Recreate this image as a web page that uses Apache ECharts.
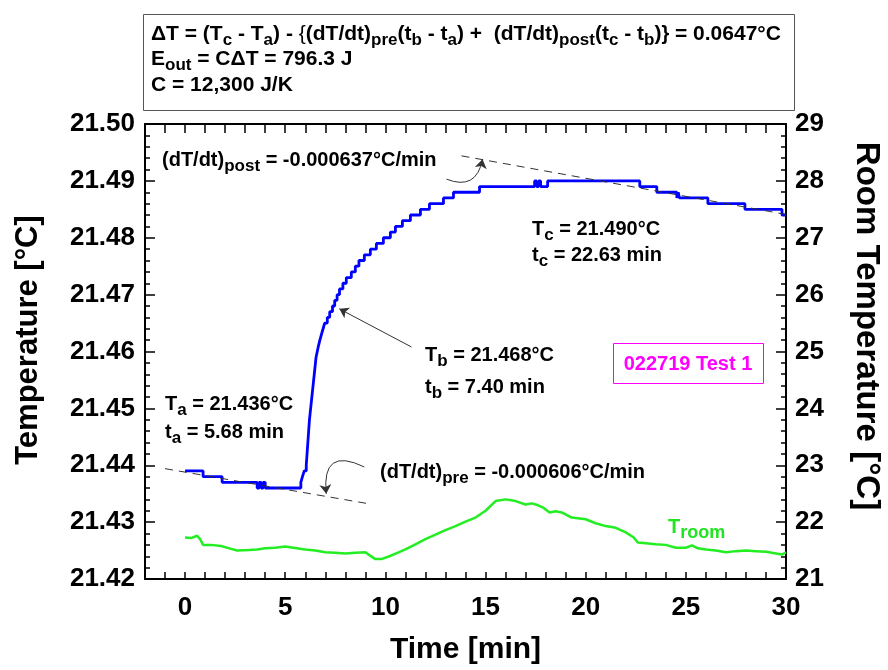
<!DOCTYPE html>
<html><head><meta charset="utf-8">
<script src="https://cdn.jsdelivr.net/npm/echarts@6/dist/echarts.min.js"></script>
<style>html,body{margin:0;padding:0;background:#fff}#c{width:888px;height:670px}</style>
</head><body><div id="c"></div>
<script>
// ---- data ----
const sampleTimes = [0, 0.9, 1.85, 3.6, 3.7, 3.8, 3.9, 4.0, 5.78, 5.86, 5.95, 6.05, 6.07, 6.09, 6.11, 6.13, 6.15, 6.17, 6.19, 6.21, 6.24, 6.27, 6.30, 6.33, 6.36, 6.39, 6.42, 6.45, 6.48, 6.51, 6.54, 6.60, 6.66, 6.73, 6.81, 6.89, 6.97, 7.10, 7.22, 7.36, 7.47, 7.59, 7.71, 7.88, 8.05, 8.30, 8.50, 8.68, 8.95, 9.25, 9.55, 9.90, 10.25, 10.50, 10.85, 11.25, 11.75, 12.20, 12.90, 13.40, 14.70, 17.45, 17.55, 17.65, 17.75, 18.10, 22.70, 23.55, 24.55, 24.62, 24.68, 26.10, 27.95, 29.80, 30.0];
const sampleTemps = [21.439, 21.438, 21.437, 21.436, 21.437, 21.436, 21.437, 21.436, 21.437, 21.438, 21.439, 21.440, 21.441, 21.442, 21.443, 21.444, 21.445, 21.446, 21.447, 21.448, 21.449, 21.450, 21.451, 21.452, 21.453, 21.454, 21.455, 21.456, 21.457, 21.458, 21.459, 21.460, 21.461, 21.462, 21.463, 21.464, 21.465, 21.466, 21.467, 21.468, 21.469, 21.470, 21.471, 21.472, 21.473, 21.474, 21.475, 21.476, 21.477, 21.478, 21.479, 21.480, 21.481, 21.482, 21.483, 21.484, 21.485, 21.486, 21.487, 21.488, 21.489, 21.490, 21.489, 21.490, 21.489, 21.490, 21.489, 21.488, 21.487, 21.488, 21.487, 21.486, 21.485, 21.484, 21.484];
const roomTimes = [0, 0.3, 0.6, 0.75, 0.9, 1.3, 1.8, 2.3, 2.6, 3.2, 3.6, 4.0, 4.5, 5.0, 5.4, 6.0, 6.5, 7.0, 7.5, 8.0, 8.5, 9.0, 9.2, 9.5, 9.8, 10.2, 10.6, 11.0, 11.5, 12.0, 12.5, 13.0, 13.5, 14.0, 14.5, 15.0, 15.5, 16.0, 16.5, 17.0, 17.3, 17.6, 17.9, 18.2, 18.5, 18.8, 19.3, 20.0, 20.5, 21.0, 21.5, 22.0, 22.4, 22.6, 23.0, 23.5, 24.0, 24.5, 25.0, 25.3, 25.6, 26.0, 26.5, 27.0, 27.5, 28.0, 28.5, 29.0, 29.5, 29.8, 30.0];
const roomTemps = [21.73, 21.72, 21.76, 21.70, 21.60, 21.60, 21.58, 21.53, 21.50, 21.51, 21.52, 21.54, 21.55, 21.57, 21.55, 21.52, 21.50, 21.47, 21.46, 21.45, 21.46, 21.47, 21.42, 21.35, 21.35, 21.40, 21.46, 21.52, 21.61, 21.70, 21.78, 21.86, 21.93, 22.01, 22.08, 22.20, 22.37, 22.40, 22.37, 22.31, 22.33, 22.30, 22.25, 22.17, 22.19, 22.17, 22.08, 22.05, 21.98, 21.93, 21.90, 21.82, 21.73, 21.64, 21.63, 21.61, 21.60, 21.55, 21.55, 21.59, 21.54, 21.52, 21.50, 21.47, 21.49, 21.50, 21.49, 21.48, 21.45, 21.43, 21.47];
const preFitTimes = [-1, 9.05];
const preFitTemps = [21.4394, 21.4333];
const postFitTimes = [13.8, 30];
const postFitTemps = [21.4944, 21.4841];
const xTickLabels = [0, 5, 10, 15, 20, 25, 30];
const xTicks = [-1,0,1,2,3,4,5,6,7,8,9,10,11,12,13,14,15,16,17,18,19,20,21,22,23,24,25,26,27,28,29,30];
const leftTickLabels = ['21.42','21.43','21.44','21.45','21.46','21.47','21.48','21.49','21.50'];
const rightTickLabels = ['21','22','23','24','25','26','27','28','29'];
// annotation arrows: [fromTime, fromTemp, toTime, toTemp]
const arrowPre = [8.95, 21.4397, 7.05, 21.4350];
const arrowPost = [13.05, 21.4903, 14.85, 21.4938];
const arrowTb = [11.3, 21.4608, 7.7, 21.4675];

const zip = (a, b) => a.map((v, i) => [v, b[i]]);
const FONT = "'Liberation Sans', Arial, sans-serif";
const axisLineStyle = { color: '#000', width: 2 };

function rt(x, y, text, color, rich) {
  return {
    type: 'text', x: x, y: y, z: 100,
    style: { text: text, fill: color || '#000', font: 'bold 20px ' + FONT, textVerticalAlign: 'middle', rich: rich }
  };
}
const annRich = {
  m: { fontSize: 20, fontWeight: 'bold', fontFamily: FONT },
  s: { fontSize: 17, fontWeight: 'bold', fontFamily: FONT, padding: [12, 0, 0, 0] }
};
const annRichG = {
  m: { fontSize: 20, fontWeight: 'bold', fontFamily: FONT, color: '#22e522' },
  s: { fontSize: 18, fontWeight: 'bold', fontFamily: FONT, color: '#22e522', padding: [12, 0, 0, 0] }
};
const boxRich = {
  m: { fontSize: 21, fontWeight: 'bold', fontFamily: FONT },
  s: { fontSize: 17, fontWeight: 'bold', fontFamily: FONT, padding: [12, 0, 0, 0] },
  b: { fontSize: 21, fontWeight: 'normal', fontFamily: FONT }
};

function arrowSeries(a, curv) {
  return {
    type: 'lines', coordinateSystem: 'cartesian2d', xAxisIndex: 0, yAxisIndex: 0, silent: true, z: 6,
    symbol: ['none', 'arrow'], symbolSize: 9,
    lineStyle: { color: '#333', width: 1, curveness: curv, opacity: 1 },
    data: [{ coords: [[a[0], a[1]], [a[2], a[3]]] }]
  };
}

const option = {
  animation: false,
  backgroundColor: '#fff',
  grid: { left: 145, right: 102, top: 124, bottom: 83, containLabel: false },
  xAxis: [{
    type: 'value', min: -2, max: 30, position: 'bottom',
    axisLine: { onZero: false, lineStyle: axisLineStyle },
    axisTick: { inside: true, length: 7, lineStyle: { color: '#000', width: 1.5 }, customValues: xTicks },
    axisLabel: { customValues: xTickLabels, fontSize: 26, fontWeight: 'bold', fontFamily: FONT, color: '#000', margin: 16 },
    splitLine: { show: false },
    name: 'Time [min]', nameLocation: 'middle', nameGap: 56,
    nameTextStyle: { fontSize: 30, fontWeight: 'bold', fontFamily: FONT, color: '#000' }
  }, {
    type: 'value', min: -2, max: 30, position: 'top',
    axisLine: { onZero: false, lineStyle: axisLineStyle },
    axisTick: { inside: true, length: 9, lineStyle: { color: '#000', width: 1.5 }, customValues: xTicks },
    axisLabel: { show: false }, splitLine: { show: false }
  }],
  yAxis: [{
    type: 'value', min: 21.42, max: 21.50, interval: 0.01, position: 'left',
    axisLine: { show: true, onZero: false, lineStyle: axisLineStyle },
    axisTick: { show: true, inside: true, length: 10, lineStyle: { color: '#000', width: 1.5 } },
    minorTick: { show: true, splitNumber: 5, length: 5, lineStyle: { color: '#000', width: 1.5 } },
    axisLabel: { fontSize: 26, fontWeight: 'bold', fontFamily: FONT, color: '#000', margin: 10,
      formatter: v => leftTickLabels[Math.round((v - 21.42) / 0.01)] },
    splitLine: { show: false }
  }, {
    type: 'value', min: 21, max: 29, interval: 1, position: 'right',
    axisLine: { show: true, onZero: false, lineStyle: axisLineStyle },
    axisTick: { show: true, inside: true, length: 10, lineStyle: { color: '#000', width: 1.5 } },
    minorTick: { show: true, splitNumber: 5, length: 5, lineStyle: { color: '#000', width: 1.5 } },
    axisLabel: { fontSize: 26, fontWeight: 'bold', fontFamily: FONT, color: '#000', margin: 9,
      formatter: v => rightTickLabels[Math.round(v - 21)] },
    splitLine: { show: false }
  }],
  series: [{
    name: 'Room', type: 'line', xAxisIndex: 0, yAxisIndex: 1, data: zip(roomTimes, roomTemps),
    symbol: 'none', lineStyle: { color: '#22ee22', width: 2.5 }, z: 3
  }, {
    name: 'Sample', type: 'line', step: 'end', xAxisIndex: 0, yAxisIndex: 0, data: zip(sampleTimes, sampleTemps),
    symbol: 'none', lineStyle: { color: '#0000ff', width: 2.8 }, z: 4
  }, {
    name: 'preFit', type: 'line', xAxisIndex: 0, yAxisIndex: 0, data: zip(preFitTimes, preFitTemps),
    symbol: 'none', lineStyle: { color: '#333', width: 1, type: [8, 6] }, z: 5
  }, {
    name: 'postFit', type: 'line', xAxisIndex: 0, yAxisIndex: 0, data: zip(postFitTimes, postFitTemps),
    symbol: 'none', lineStyle: { color: '#333', width: 1, type: [8, 6] }, z: 5
  },
  arrowSeries(arrowPre, -0.9),
  arrowSeries(arrowPost, -0.6),
  arrowSeries(arrowTb, 0)
  ],
  graphic: [
    { type: 'rect', shape: { x: 143.5, y: 14.5, width: 651, height: 96 }, style: { fill: '#fff', stroke: '#555', lineWidth: 1 } },
    rt(151, 34, '{m|ΔT = (T}{s|c}{m| - T}{s|a}{m|) - }{b|\{}{m|(dT/dt)}{s|pre}{m|(t}{s|b}{m| - t}{s|a}{m|) +  (dT/dt)}{s|post}{m|(t}{s|c}{m| - t}{s|b}{m|)}{b|\}}{m| = 0.0647°C}', '#000', boxRich),
    rt(151, 59, '{m|E}{s|out}{m| = CΔT = 796.3 J}', '#000', boxRich),
    rt(151, 85, '{m|C = 12,300 J/K}', '#000', boxRich),
    { type: 'text', x: 28, y: 340, rotation: Math.PI / 2, z: 100,
      style: { text: 'Temperature [°C]', fill: '#000', font: 'bold 31px ' + FONT, textAlign: 'center', textVerticalAlign: 'middle' } },
    { type: 'text', x: 866, y: 326, rotation: -Math.PI / 2, z: 100,
      style: { text: 'Room Temperature [°C]', fill: '#000', font: 'bold 33px ' + FONT, textAlign: 'center', textVerticalAlign: 'middle' } },
    rt(162, 160, '{m|(dT/dt)}{s|post}{m| = -0.000637°C/min}', '#000', annRich),
    rt(532, 229, '{m|T}{s|c}{m| = 21.490°C}', '#000', annRich),
    rt(532, 255, '{m|t}{s|c}{m| = 22.63 min}', '#000', annRich),
    rt(425, 355, '{m|T}{s|b}{m| = 21.468°C}', '#000', annRich),
    rt(425, 387, '{m|t}{s|b}{m| = 7.40 min}', '#000', annRich),
    rt(165, 404, '{m|T}{s|a}{m| = 21.436°C}', '#000', annRich),
    rt(165, 432, '{m|t}{s|a}{m| = 5.68 min}', '#000', annRich),
    rt(380, 472, '{m|(dT/dt)}{s|pre}{m| = -0.000606°C/min}', '#000', annRich),
    rt(668, 527, '{m|T}{s|room}', '#22e522', annRichG),
    { type: 'rect', shape: { x: 613.5, y: 343.5, width: 150, height: 40 }, style: { fill: 'none', stroke: '#ff00ff', lineWidth: 1 }, z: 100 },
    { type: 'text', x: 688, y: 364, z: 100, style: { text: '022719 Test 1', fill: '#ff00ff', font: 'bold 20px ' + FONT, textAlign: 'center', textVerticalAlign: 'middle' } }
  ]
};
const chart = echarts.init(document.getElementById('c'), null, { renderer: 'canvas' });
chart.setOption(option);
</script>
</body></html>
